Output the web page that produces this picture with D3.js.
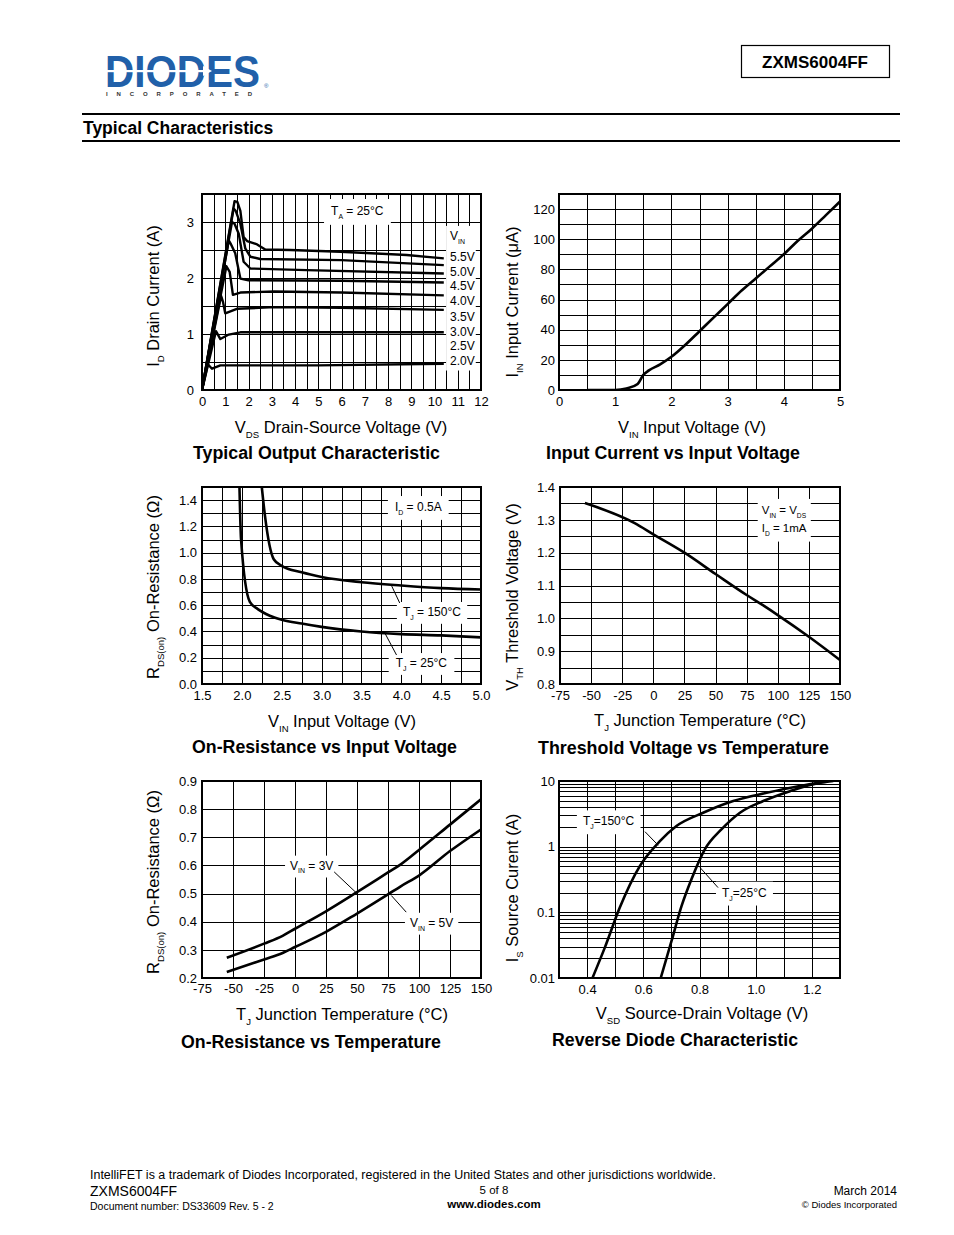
<!DOCTYPE html>
<html><head><meta charset="utf-8">
<script src="https://cdn.jsdelivr.net/npm/d3@7"></script>
<style>body{margin:0;background:#fff;} svg{display:block;}</style>
</head><body><svg id="page" width="954" height="1235"></svg>
<script>
// ---------- DATA ----------
// Chart 1: Typical Output Characteristic  [VDS (V), ID (A)]
const outLabels = ["5.5V","5.0V","4.5V","4.0V","3.5V","3.0V","2.5V","2.0V"];
const out55 = [[0,0],[1.40,3.37],[1.52,3.36],[1.65,3.2],[1.79,2.73],[1.94,2.66],[2.37,2.60],[2.72,2.51],[3.8,2.50],[5.95,2.47],[8.8,2.41],[10.4,2.35]];
const out50 = [[0,0],[1.36,3.24],[1.45,3.2],[1.65,2.97],[1.86,2.53],[2.08,2.38],[2.5,2.34],[6,2.32],[10.4,2.23]];
const out45 = [[0,0],[1.29,3.0],[1.4,2.97],[1.58,2.79],[1.79,2.29],[2.08,2.17],[4.5,2.14],[10.4,2.08]];
const out40 = [[0,0],[1.15,2.67],[1.25,2.6],[1.43,2.44],[1.65,1.99],[2.0,1.96],[6,1.95],[10.4,1.92]];
const out35 = [[0,0],[1.05,2.21],[1.19,2.11],[1.33,1.70],[1.65,1.74],[3.1,1.76],[6,1.74],[10.4,1.69]];
const out30 = [[0,0],[0.82,1.68],[0.9,1.58],[1.0,1.37],[1.5,1.45],[3.1,1.48],[6,1.47],[10.4,1.43]];
const out25 = [[0,0],[0.60,1.05],[0.79,0.91],[1.15,0.99],[1.65,1.03],[6,1.03],[10.4,1.03]];
const out20 = [[0,0],[0.25,0.46],[0.43,0.38],[0.79,0.44],[5,0.44],[10.4,0.47]];
const outXTicks = [0,1,2,3,4,5,6,7,8,9,10,11,12];
const outYTicks = [0,1,2,3];

// Chart 2: Input Current vs Input Voltage
const inVin = [0.5,1.0,1.2,1.4,1.5,1.6,1.8,2.0,2.25,2.5,2.75,3.0,3.25,3.5,3.75,4.0,4.25,4.5,4.75,5.0];
const inIin = [0,0,1,4,10,13,17,22,30,39,48,57,66,74,82,90,99,107,116,125];
const inXTicks = [0,1,2,3,4,5];
const inYTicks = [0,20,40,60,80,100,120];

// Chart 3: On-Resistance vs Input Voltage
const rvVin25 = [1.97,1.99,2.1,2.2,2.35,2.5,2.75,3.0,3.5,4.0,4.5,5.0];
const rvR25   = [1.5,1.1,0.625,0.57,0.52,0.49,0.46,0.435,0.40,0.38,0.37,0.355];
const rvVin150 = [2.25,2.29,2.4,2.5,2.75,3.0,3.5,4.0,4.5,5.0];
const rvR150   = [1.5,1.28,0.95,0.90,0.85,0.815,0.775,0.75,0.73,0.72];
const rvXTicks = [1.5,2.0,2.5,3.0,3.5,4.0,4.5,5.0];
const rvYTicks = [0.0,0.2,0.4,0.6,0.8,1.0,1.2,1.4];

// Chart 4: Threshold Voltage vs Temperature
const thTemp = [-55,-15,0,25,50,75,88,100,125,150];
const thVth  = [1.351,1.29,1.256,1.2,1.135,1.071,1.04,1.01,0.944,0.873];
const tempTicks = [-75,-50,-25,0,25,50,75,100,125,150];
const thYTicks = [0.8,0.9,1.0,1.1,1.2,1.3,1.4];

// Chart 5: On-Resistance vs Temperature
const rtTemp = [-55,-25,-10,0,25,50,75,85,100,125,150];
const rtR3V  = [0.272,0.322,0.350,0.375,0.437,0.505,0.575,0.603,0.655,0.745,0.835];
const rtR5V  = [0.221,0.266,0.289,0.310,0.364,0.429,0.497,0.525,0.564,0.651,0.728];
const rtYTicks = [0.2,0.3,0.4,0.5,0.6,0.7,0.8,0.9];

// Chart 6: Reverse Diode Characteristic
const rdV150 = [0.419,0.463,0.516,0.587,0.659,0.718,0.813,0.92,1.039,1.157,1.252];
const rdI150 = [0.01,0.029,0.117,0.50,1.21,2.06,3.28,4.95,6.6,8.4,9.8];
const rdV25  = [0.662,0.70,0.736,0.771,0.819,0.878,0.944,1.027,1.122,1.229,1.276];
const rdI25  = [0.01,0.036,0.124,0.316,0.91,1.83,3.29,4.95,7.0,9.4,10];
const rdXTicks = [0.4,0.6,0.8,1.0,1.2];
const rdYTicks = [0.01,0.1,1,10];

// ---------- DRAWING ----------
const FONT = '"Liberation Sans", Arial, Helvetica, sans-serif';
const svg = d3.select('#page').attr('font-family', FONT);
const zip = (a, b) => a.map((v, i) => [v, b[i]]);
const steps = (a, b, s) => d3.range(Math.round((b - a) / s) + 1).map(i => +(a + i * s).toFixed(6));
const fmtInt = d => String(d);
const fmt1 = d => d.toFixed(1);

function rich(t, parts, size) {
  let prevSub = false;
  parts.forEach(p => {
    const ts = t.append('tspan').text(p[0]);
    if (p[1] === 'sub') { ts.attr('font-size', size * 0.58).attr('dy', size * 0.32); prevSub = true; }
    else { ts.attr('font-size', size); if (prevSub) ts.attr('dy', -size * 0.32); prevSub = false; }
  });
  return t;
}

function chart(c) {
  const g = svg.append('g');
  const x = d3.scaleLinear().domain(c.xDomain).range([c.left, c.right]);
  const y = (c.ylog ? d3.scaleLog() : d3.scaleLinear()).domain(c.yDomain).range([c.bottom, c.top]);
  const px = v => Math.round(v) + 0.5;
  const grid = g.append('g').attr('stroke', '#000').attr('stroke-width', 1).attr('shape-rendering', 'crispEdges');
  grid.selectAll('.v').data(c.xGrid).join('line').attr('class', 'v')
    .attr('x1', d => px(x(d))).attr('x2', d => px(x(d))).attr('y1', c.top).attr('y2', c.bottom);
  grid.selectAll('.h').data(c.yGrid).join('line').attr('class', 'h')
    .attr('y1', d => px(y(d))).attr('y2', d => px(y(d))).attr('x1', c.left).attr('x2', c.right);
  const clipId = 'clip-' + c.name;
  svg.append('clipPath').attr('id', clipId).append('rect')
    .attr('x', c.left).attr('y', c.top).attr('width', c.right - c.left).attr('height', c.bottom - c.top);
  const line = d3.line().x(d => x(d[0])).y(d => y(d[1])).curve(c.curve || d3.curveLinear);
  const curves = g.append('g').attr('clip-path', `url(#${clipId})`);
  c.series.forEach(s => {
    curves.append('path').attr('d', line(s)).attr('fill', 'none').attr('stroke', '#000')
      .attr('stroke-width', c.sw || 2.6).attr('stroke-linejoin', 'round');
  });
  g.append('rect').attr('x', c.left).attr('y', c.top).attr('width', c.right - c.left).attr('height', c.bottom - c.top)
    .attr('fill', 'none').attr('stroke', '#000').attr('stroke-width', 2);
  const ax = g.append('g').attr('transform', `translate(0,${c.bottom})`)
    .call(d3.axisBottom(x).tickValues(c.xTicks).tickSize(0).tickPadding(c.xPad).tickFormat(c.xFmt));
  ax.select('.domain').remove();
  ax.attr('font-family', FONT).attr('font-size', 13);
  ax.selectAll('text').attr('fill', '#000');
  const ay = g.append('g').attr('transform', `translate(${c.left},0)`)
    .call(d3.axisLeft(y).tickValues(c.yTicks).tickSize(0).tickPadding(c.yPad).tickFormat(c.yFmt));
  ay.select('.domain').remove();
  ay.attr('font-family', FONT).attr('font-size', 13);
  ay.selectAll('text').attr('fill', '#000');
  // axis titles
  rich(g.append('text').attr('text-anchor', 'middle')
    .attr('transform', `translate(${c.yLab[0]},${c.yLab[1]}) rotate(-90)`), c.yParts, 16.5);
  rich(g.append('text').attr('text-anchor', 'middle').attr('x', c.xLab[0]).attr('y', c.xLab[1]), c.xParts, 16.5);
  g.append('text').attr('text-anchor', 'middle').attr('x', c.title[0]).attr('y', c.title[1])
    .attr('font-size', 17.5).attr('font-weight', 'bold')
    .attr('textLength', c.title[2]).attr('lengthAdjust', 'spacingAndGlyphs').text(c.titleText);
  return { g, x, y };
}

function label(ch, xv, yv, parts, opts = {}) {
  const size = opts.size || 12;
  const grp = ch.g.append('g');
  const bg = grp.append('rect').attr('fill', '#fff');
  const texts = [];
  const lines = Array.isArray(parts[0][0]) ? parts : [parts];
  lines.forEach((lp, i) => {
    const t = grp.append('text').attr('x', ch.x(xv)).attr('y', ch.y(yv) + i * (opts.lh || 0));
    rich(t, lp, size);
    texts.push(t);
  });
  const boxes = texts.map(t => t.node().getBBox());
  const x0 = d3.min(boxes, b => b.x), x1 = d3.max(boxes, b => b.x + b.width);
  const y0 = d3.min(boxes, b => b.y), y1 = d3.max(boxes, b => b.y + b.height);
  const ph = opts.ph != null ? opts.ph : 6, pv = opts.pv != null ? opts.pv : 3;
  bg.attr('x', x0 - ph).attr('y', y0 - pv).attr('width', x1 - x0 + 2 * ph).attr('height', y1 - y0 + 2 * pv);
}
function leader(ch, a, b) {
  ch.g.append('line').attr('x1', ch.x(a[0])).attr('y1', ch.y(a[1])).attr('x2', ch.x(b[0])).attr('y2', ch.y(b[1]))
    .attr('stroke', '#000').attr('stroke-width', 1);
}

// ----- Chart 1 -----
const c1 = chart({
  name: 'c1', left: 202, right: 481, top: 194, bottom: 390,
  xDomain: [0, 12], yDomain: [0, 3.5], xGrid: steps(0, 12, 0.5), yGrid: steps(0, 3.5, 0.5),
  xTicks: outXTicks, yTicks: outYTicks, xFmt: fmtInt, yFmt: fmtInt, xPad: 7, yPad: 8,
  series: [out55, out50, out45, out40, out35, out30, out25, out20], sw: 2.4,
  yLab: [159, 296], yParts: [['I'], ['D', 'sub'], ['  Drain Current (A)']],
  xLab: [341, 433], xParts: [['V'], ['DS', 'sub'], ['  Drain-Source Voltage (V)']],
  title: [316.5, 459, 247], titleText: 'Typical Output Characteristic'
});
label(c1, 5.55, 3.125, [['T'], ['A', 'sub'], [' = 25°C']], { ph: 7, pv: 5 });
{
  const grp = [[['V'], ['IN', 'sub']]].concat(outLabels.map(l => [[l]]));
  const ys = [2.68, 2.31, 2.04, 1.78, 1.51, 1.24, 0.97, 0.72, 0.455];
  const g = c1.g.append('g');
  const bg = g.append('rect').attr('fill', '#fff');
  const ts = grp.map((p, i) => rich(g.append('text').attr('x', c1.x(10.67)).attr('y', c1.y(ys[i])), p, 12));
  const bb = ts.map(t => t.node().getBBox());
  const x0 = d3.min(bb, b => b.x), x1 = d3.max(bb, b => b.x + b.width);
  const y0 = d3.min(bb, b => b.y), y1 = d3.max(bb, b => b.y + b.height);
  bg.attr('x', x0 - 4).attr('y', y0 - 3).attr('width', x1 - x0 + 5).attr('height', y1 - y0 + 6);
}

// ----- Chart 2 -----
chart({
  name: 'c2', left: 559, right: 840, top: 194, bottom: 390,
  xDomain: [0, 5], yDomain: [0, 130], xGrid: steps(0, 5, 0.5), yGrid: steps(0, 130, 10),
  xTicks: inXTicks, yTicks: inYTicks, xFmt: fmtInt, yFmt: fmtInt, xPad: 7, yPad: 4,
  series: [zip(inVin, inIin)], curve: d3.curveMonotoneX,
  yLab: [518, 302], yParts: [['I'], ['IN', 'sub'], [' Input Current (μA)']],
  xLab: [692, 433], xParts: [['V'], ['IN', 'sub'], [' Input Voltage (V)']],
  title: [673, 459, 254], titleText: 'Input Current vs Input Voltage'
});

// ----- Chart 3 -----
const c3 = chart({
  name: 'c3', left: 202, right: 481, top: 487, bottom: 684,
  xDomain: [1.5, 5.0], yDomain: [0, 1.5], xGrid: steps(1.5, 5, 0.25), yGrid: steps(0, 1.5, 0.1),
  xTicks: rvXTicks, yTicks: rvYTicks, xFmt: fmt1, yFmt: fmt1, xPad: 7, yPad: 5,
  series: [zip(rvVin25, rvR25), zip(rvVin150, rvR150)], curve: d3.curveMonotoneX,
  yLab: [159, 587], yParts: [['R'], ['DS(on)', 'sub'], [' On-Resistance (Ω)']],
  xLab: [342, 727], xParts: [['V'], ['IN', 'sub'], [' Input Voltage (V)']],
  title: [324.5, 753, 265], titleText: 'On-Resistance vs Input Voltage'
});
label(c3, 3.92, 1.317, [['I'], ['D', 'sub'], [' = 0.5A']], { ph: 7, pv: 4 });
label(c3, 4.02, 0.518, [['T'], ['J', 'sub'], [' = 150°C']], { ph: 6, pv: 3 });
label(c3, 3.93, 0.129, [['T'], ['J', 'sub'], [' = 25°C']], { ph: 7, pv: 3 });
leader(c3, [3.88, 0.746], [3.98, 0.617]);
leader(c3, [3.80, 0.381], [3.94, 0.221]);

// ----- Chart 4 -----
const c4 = chart({
  name: 'c4', left: 560, right: 840, top: 487, bottom: 684,
  xDomain: [-75, 150], yDomain: [0.8, 1.4], xGrid: steps(-75, 150, 25), yGrid: steps(0.8, 1.4, 0.05),
  xTicks: tempTicks, yTicks: thYTicks, xFmt: fmtInt, yFmt: fmt1, xPad: 7, yPad: 5,
  series: [zip(thTemp, thVth)], curve: d3.curveMonotoneX,
  yLab: [518, 597], yParts: [['V'], ['TH', 'sub'], ['  Threshold Voltage (V)']],
  xLab: [700, 726], xParts: [['T'], ['J', 'sub'], ['  Junction Temperature (°C)']],
  title: [683.5, 754, 291], titleText: 'Threshold Voltage vs Temperature'
});
label(c4, 87.1, 1.318, [[['V'], ['IN', 'sub'], [' = V'], ['DS', 'sub']], [['I'], ['D', 'sub'], [' = 1mA']]], { size: 11.5, lh: 18, ph: 4, pv: 5 });

// ----- Chart 5 -----
const c5 = chart({
  name: 'c5', left: 202, right: 481, top: 781, bottom: 978,
  xDomain: [-75, 150], yDomain: [0.2, 0.9], xGrid: steps(-75, 150, 25), yGrid: steps(0.2, 0.9, 0.1),
  xTicks: tempTicks, yTicks: rtYTicks, xFmt: fmtInt, yFmt: fmt1, xPad: 6, yPad: 5,
  series: [zip(rtTemp, rtR3V), zip(rtTemp, rtR5V)], curve: d3.curveMonotoneX,
  yLab: [159, 882], yParts: [['R'], ['DS(on)', 'sub'], [' On-Resistance (Ω)']],
  xLab: [342, 1020], xParts: [['T'], ['J', 'sub'], ['  Junction Temperature (°C)']],
  title: [311, 1048, 260], titleText: 'On-Resistance vs Temperature'
});
label(c5, -4.0, 0.585, [['V'], ['IN', 'sub'], [' = 3V']], { ph: 5, pv: 3 });
label(c5, 92.7, 0.382, [['V'], ['IN', 'sub'], [' = 5V']], { ph: 5, pv: 3 });
leader(c5, [31.6, 0.577], [49.6, 0.502]);
leader(c5, [77.7, 0.493], [89.7, 0.434]);

// ----- Chart 6 -----
const logGrid = [0.01, 0.1, 1].flatMap(d => d3.range(1, 10).map(k => +(k * d).toPrecision(3))).concat([10]);
const c6 = chart({
  name: 'c6', left: 559, right: 840, top: 781, bottom: 978, ylog: true,
  xDomain: [0.3, 1.3], yDomain: [0.01, 10], xGrid: steps(0.3, 1.3, 0.1), yGrid: logGrid,
  xTicks: rdXTicks, yTicks: rdYTicks, xFmt: fmt1, yFmt: d => String(d), xPad: 7, yPad: 4,
  series: [zip(rdV150, rdI150), zip(rdV25, rdI25)], curve: d3.curveMonotoneX,
  yLab: [518, 888], yParts: [['I'], ['S', 'sub'], ['  Source Curent (A)']],
  xLab: [702, 1019], xParts: [['V'], ['SD', 'sub'], ['  Source-Drain Voltage (V)']],
  title: [675, 1046, 246], titleText: 'Reverse Diode Characteristic'
});
label(c6, 0.385, 2.11, [['T'], ['J', 'sub'], ['=150°C']], { ph: 6, pv: 4 });
label(c6, 0.880, 0.173, [['T'], ['J', 'sub'], ['=25°C']], { ph: 6, pv: 4 });
leader(c6, [0.606, 1.69], [0.653, 1.05]);
leader(c6, [0.802, 0.481], [0.866, 0.238]);

// ---------- HEADER ----------
const logo = svg.append('g');
logo.append('text').attr('x', 105).attr('y', 87).attr('font-size', 44).attr('font-weight', 'bold')
  .attr('fill', '#2160a9').attr('textLength', 155).attr('lengthAdjust', 'spacingAndGlyphs')
  .text('DIODES');
logo.append('rect').attr('x', 103).attr('y', 70).attr('width', 100).attr('height', 2.2).attr('fill', '#fff');
logo.append('path').attr('d', 'M203,66 L212,71 L203,76 Z').attr('fill', '#fff');
logo.append('text').attr('x', 264).attr('y', 88).attr('font-size', 6).attr('fill', '#2160a9').text('®');
logo.append('text').attr('x', 106).attr('y', 96).attr('font-size', 6).attr('font-weight', 'bold').attr('fill', '#333')
  .attr('textLength', 146).attr('lengthAdjust', 'spacing').text('INCORPORATED');
svg.append('rect').attr('x', 741.5).attr('y', 45.5).attr('width', 148).attr('height', 32)
  .attr('fill', 'none').attr('stroke', '#000').attr('stroke-width', 1.2);
svg.append('text').attr('x', 815).attr('y', 68).attr('text-anchor', 'middle').attr('font-size', 17)
  .attr('font-weight', 'bold').text('ZXMS6004FF');
svg.append('line').attr('x1', 82).attr('x2', 900).attr('y1', 114).attr('y2', 114).attr('stroke', '#000').attr('stroke-width', 2);
svg.append('line').attr('x1', 82).attr('x2', 900).attr('y1', 141).attr('y2', 141).attr('stroke', '#000').attr('stroke-width', 2);
svg.append('text').attr('x', 83).attr('y', 134).attr('font-size', 17.5).attr('font-weight', 'bold').text('Typical Characteristics');

// ---------- FOOTER ----------
svg.append('text').attr('x', 90).attr('y', 1179).attr('font-size', 12.5).attr('textLength', 626).attr('lengthAdjust', 'spacingAndGlyphs')
  .text('IntelliFET is a trademark of Diodes Incorporated, registered in the United States and other jurisdictions worldwide.');
svg.append('text').attr('x', 90).attr('y', 1196).attr('font-size', 14).text('ZXMS6004FF');
svg.append('text').attr('x', 90).attr('y', 1210).attr('font-size', 10.5).text('Document number: DS33609 Rev. 5 - 2');
svg.append('text').attr('x', 494).attr('y', 1194).attr('font-size', 11.5).attr('text-anchor', 'middle').text('5 of 8');
svg.append('text').attr('x', 494).attr('y', 1208).attr('font-size', 11.5).attr('text-anchor', 'middle').attr('font-weight', 'bold').text('www.diodes.com');
svg.append('text').attr('x', 897).attr('y', 1195).attr('font-size', 12).attr('text-anchor', 'end').text('March 2014');
svg.append('text').attr('x', 897).attr('y', 1208).attr('font-size', 9.5).attr('text-anchor', 'end').text('© Diodes Incorporated');
</script>
</body></html>
